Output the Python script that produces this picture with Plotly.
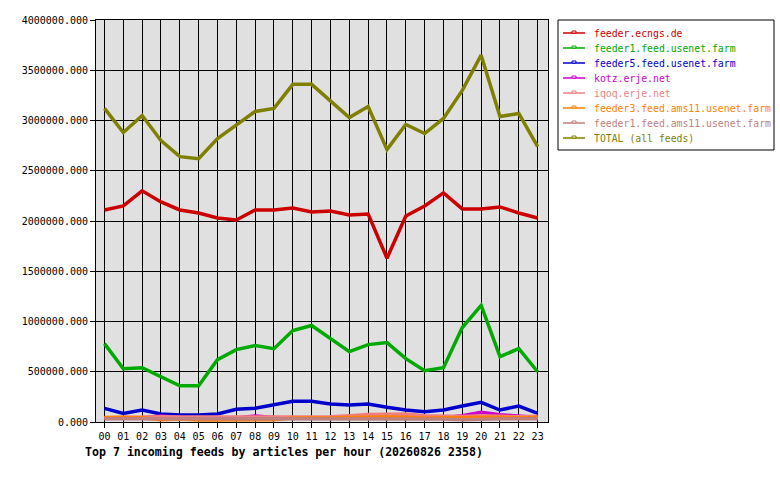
import plotly.graph_objects as go

hours = ['%02d' % h for h in range(24)]

ecngs = [2110000, 2150000, 2300000, 2190000, 2110000, 2080000, 2030000, 2010000,
         2110000, 2110000, 2130000, 2090000, 2100000, 2060000, 2070000, 1630000,
         2050000, 2150000, 2280000, 2120000, 2120000, 2140000, 2080000, 2030000]
feeder1 = [780000, 530000, 540000, 450000, 360000, 360000, 620000, 720000,
           760000, 730000, 910000, 960000, 830000, 700000, 770000, 790000,
           630000, 510000, 540000, 940000, 1160000, 650000, 730000, 500000]
feeder5 = [136000, 86000, 119000, 80000, 70000, 70000, 80000, 126000,
           136000, 169000, 206000, 206000, 179000, 169000, 179000, 146000,
           119000, 103000, 119000, 159000, 196000, 119000, 159000, 86000]
kotz = [40000, 40000, 42000, 60000, 45000, 42000, 40000, 40000,
        60000, 45000, 42000, 40000, 40000, 42000, 45000, 45000,
        42000, 40000, 42000, 62000, 96000, 72000, 60000, 45000]
iqoq = [42000, 48000, 54000, 52000, 50000, 48000, 48000, 48000,
        50000, 50000, 50000, 50000, 52000, 62000, 74000, 76000,
        80000, 62000, 55000, 55000, 62000, 58000, 52000, 58000]
feeder3_ams11 = [45000, 48000, 42000, 22000, 30000, 20000, 20000, 20000,
                 18000, 22000, 40000, 38000, 40000, 45000, 50000, 50000,
                 48000, 40000, 42000, 40000, 45000, 48000, 42000, 45000]
feeder1_ams11 = [32000, 32000, 32000, 32000, 32000, 32000, 32000, 32000,
                 32000, 32000, 32000, 32000, 32000, 32000, 32000, 32000,
                 32000, 32000, 30000, 22000, 30000, 32000, 32000, 32000]
total = [3120000, 2880000, 3050000, 2800000, 2640000, 2620000, 2820000, 2950000,
         3090000, 3120000, 3360000, 3360000, 3200000, 3030000, 3140000, 2710000,
         2960000, 2870000, 3020000, 3300000, 3650000, 3040000, 3070000, 2740000]

series = [
    ('feeder.ecngs.de', ecngs, '#cc0000'),
    ('feeder1.feed.usenet.farm', feeder1, '#00aa00'),
    ('feeder5.feed.usenet.farm', feeder5, '#0000cc'),
    ('kotz.erje.net', kotz, '#cc00cc'),
    ('iqoq.erje.net', iqoq, '#f08080'),
    ('feeder3.feed.ams11.usenet.farm', feeder3_ams11, '#ff8000'),
    ('feeder1.feed.ams11.usenet.farm', feeder1_ams11, '#c08080'),
    ('TOTAL (all feeds)', total, '#808000'),
]

font = 'DejaVu Sans Mono'

W, H = 780, 480
L, R, T, B = 96, 232, 20, 58
pw, ph = W - L - R, H - T - B

def px(x):
    return (x - L) / pw

def py(y):
    return (H - B - y) / ph

fig = go.Figure()
for name, vals, color in series:
    fig.add_trace(go.Scatter(
        x=hours, y=vals, mode='lines', name=name, showlegend=False,
        line=dict(color=color, width=3.5),
    ))

# hand-made legend box (plotly's own is too tall for this layout)
shapes = [dict(type='rect', xref='paper', yref='paper',
               x0=px(558), x1=px(774), y0=py(20), y1=py(150),
               line=dict(color='black', width=1), fillcolor='white')]
for i, (name, vals, color) in enumerate(series):
    yc = 33 + 15 * i
    shapes.append(dict(type='line', xref='paper', yref='paper',
                       x0=px(563), x1=px(585), y0=py(yc), y1=py(yc),
                       line=dict(color=color, width=1.5)))
    shapes.append(dict(type='rect', xref='paper', yref='paper',
                       x0=px(572), x1=px(576), y0=py(yc - 2), y1=py(yc),
                       line=dict(color=color, width=1), fillcolor='white'))
    fig.add_annotation(
        text=name, xref='paper', yref='paper', x=px(592), y=py(yc),
        xanchor='left', yanchor='middle', showarrow=False,
        font=dict(family=font, size=9.8, color=color),
    )

fig.add_annotation(
    text='<b>Top 7 incoming feeds by articles per hour (20260826 2358)</b>',
    xref='paper', yref='paper', x=px(83), y=py(452),
    xanchor='left', yanchor='middle', showarrow=False,
    font=dict(family=font, size=11.6, color='black'),
)

fig.update_layout(
    width=W, height=H,
    margin=dict(l=L, r=R, t=T, b=B, autoexpand=False),
    paper_bgcolor='white',
    plot_bgcolor='#e0e0e0',
    font=dict(family=font, size=10, color='black'),
    shapes=shapes,
    showlegend=False,
)
fig.update_xaxes(
    type='category', range=[-0.45, 23.55],
    showgrid=True, gridcolor='black', gridwidth=1,
    showline=True, linecolor='black', linewidth=1, mirror=True,
    ticks='outside', ticklen=5, tickcolor='black',
    tickfont=dict(family=font, size=10),
)
fig.update_yaxes(
    range=[0, 4000000], dtick=500000, tickformat='.3f',
    showgrid=True, gridcolor='black', gridwidth=1,
    showline=True, linecolor='black', linewidth=1, mirror=True,
    ticks='outside', ticklen=5, tickcolor='black',
    zeroline=False,
    tickfont=dict(family=font, size=10),
)

# drop the page's default 8px body margin so the figure fills the window
fig.write_html('out.html', config={'displayModeBar': False},
               post_script="document.body.style.margin='0';")
